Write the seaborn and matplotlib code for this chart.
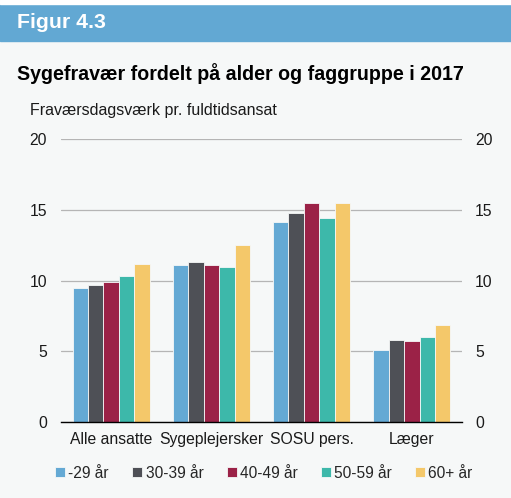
import matplotlib
matplotlib.use("Agg")
import matplotlib.pyplot as plt
import matplotlib.patches as mpatches
import pandas as pd
import seaborn as sns

# Data
faggrupper = ["Alle ansatte", "Sygeplejersker", "SOSU pers.", "Læger"]
aldersgrupper = ["-29 år", "30-39 år", "40-49 år", "50-59 år", "60+ år"]
v_29 = [9.45, 11.1, 14.15, 5.07]
v_30_39 = [9.65, 11.3, 14.8, 5.77]
v_40_49 = [9.9, 11.1, 15.5, 5.7]
v_50_59 = [10.35, 10.95, 14.4, 5.98]
v_60 = [11.2, 12.5, 15.5, 6.85]
y_ticks = [0, 5, 10, 15, 20]

farver = ["#64a9d4", "#4e5056", "#9b2247", "#3db8aa", "#f4c86a"]
baggrund = "#f6f8f8"

rows = []
for alder, vals in zip(aldersgrupper, [v_29, v_30_39, v_40_49, v_50_59, v_60]):
    for fag, v in zip(faggrupper, vals):
        rows.append({"Faggruppe": fag, "Alder": alder, "Dage": v})
df = pd.DataFrame(rows)

sns.set_theme(style="white")
plt.rcParams["font.family"] = ["Liberation Sans", "DejaVu Sans"]

fig = plt.figure(figsize=(5.11, 4.98), dpi=100)
fig.patch.set_facecolor(baggrund)

# blå topbjælke
fig.patches.append(mpatches.Rectangle((0, 1 - 41 / 498), 1, 37 / 498,
                                      transform=fig.transFigure, color="#62a8d3", zorder=0))
fig.patches.append(mpatches.Rectangle((0, 1 - 4 / 498), 1, 4 / 498,
                                      transform=fig.transFigure, color="white", zorder=0))
fig.text(17 / 511, 1 - 22 / 498, "Figur 4.3", color="white", fontsize=15.3,
         fontweight="bold", va="center", ha="left")
fig.text(17 / 511, 1 - 74 / 498, "Sygefravær fordelt på alder og faggruppe i 2017",
         color="black", fontsize=14.1, fontweight="bold", va="center", ha="left")
fig.text(30 / 511, 1 - 111 / 498, "Fraværsdagsværk pr. fuldtidsansat",
         color="#1a1a1a", fontsize=11.5, va="center", ha="left")

ax = fig.add_axes([61 / 511, 1 - 422 / 498, 401 / 511, 283 / 498])
ax.set_facecolor(baggrund)
sns.barplot(data=df, x="Faggruppe", y="Dage", hue="Alder", order=faggrupper,
            hue_order=aldersgrupper, palette=farver, width=0.77, ax=ax,
            edgecolor=baggrund, linewidth=0.6, saturation=1, zorder=3)

ax.set_ylim(0, 20)
ax.set_xlim(-0.5, 3.5)
ax.set_yticks(y_ticks)
ax.yaxis.grid(True, color="#b5b5b5", linewidth=0.9, zorder=0)
ax.set_axisbelow(True)
for s in ["left", "right", "top"]:
    ax.spines[s].set_visible(False)
ax.spines["bottom"].set_color("black")
ax.spines["bottom"].set_linewidth(1.0)
ax.spines["bottom"].set_zorder(5)
ax.tick_params(axis="y", length=0, labelsize=11.3, pad=10, colors="#1a1a1a")
ax.tick_params(axis="x", which="major", length=0, labelsize=11.3, pad=7, colors="#1a1a1a")
ax.set_xticks([-0.5, 0.5, 1.5, 2.5, 3.5], minor=True)
ax.tick_params(axis="x", which="minor", length=4, width=0.8, color="#555555", direction="out")
ax.set_xlabel("")
ax.set_ylabel("")

ax2 = ax.twinx()
ax2.set_ylim(0, 20)
ax2.set_yticks(y_ticks)
ax2.tick_params(axis="y", length=0, labelsize=11.3, pad=9.5, colors="#1a1a1a")
for s in ax2.spines.values():
    s.set_visible(False)

handles, labels = ax.get_legend_handles_labels()
ax.get_legend().remove()
fig.legend(handles, labels, loc="center", bbox_to_anchor=(264 / 511, 1 - 473 / 498), ncol=5,
           frameon=False, fontsize=11.2, handlelength=0.65, handleheight=0.65,
           handletextpad=0.2, columnspacing=1.5)

fig.savefig("out.png", dpi=100, facecolor=fig.get_facecolor())
